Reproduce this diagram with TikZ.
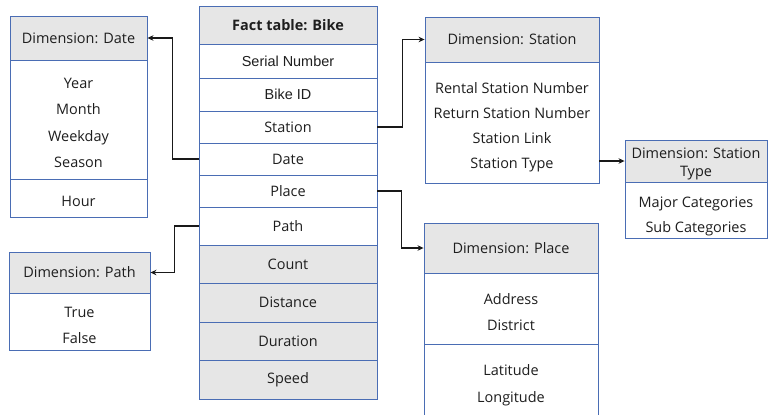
\documentclass[tikz,border=0pt]{standalone}
\usepackage{fontspec}
\setmainfont{Open Sans}
\newfontfamily\arialish{Liberation Sans}
\usetikzlibrary{arrows.meta}
\definecolor{frame}{HTML}{4A6DB4}
\definecolor{hdrfill}{HTML}{E6E6E6}
\definecolor{ink}{HTML}{1E1E1E}
\tikzset{
  cell/.style={draw=frame, line width=0.9bp, inner sep=0pt,
    font=\fontsize{14.5}{19}\selectfont, text=ink, align=center},
  hdr/.style={cell, fill=hdrfill},
  plain/.style={cell, fill=white},
  item/.style={inner sep=0pt, anchor=mid, font=\fontsize{14.5}{16}\selectfont, text=ink},
  conn/.style={draw=black!90, line width=1.4bp, -{Stealth[length=6bp,width=5.5bp]}},
}
% \tablecell{style}{name}{x1}{y1}{x2}{y2}{text}: a cell spanning the two corners
\newcommand\tablecell[7]{%
  \node[#1, minimum width={(#5-#3)*1bp}, minimum height={(#6-#4)*1bp}]
    (#2) at ({(#3+#5)/2},{(#4+#6)/2}) {#7};}
\begin{document}
\begin{tikzpicture}[x=1bp,y=-1bp]
\clip (0,0) rectangle (769,414);
\fill[white] (0,0) rectangle (769,414);

% ---------- fact table ----------
\tablecell{hdr}{f-head}{199}{6}{377}{44}{\bfseries Fact table: Bike}
\tablecell{plain}{f-serial}{199}{44}{377}{78}{\arialish Serial Number}
\tablecell{plain}{f-bike}{199}{78}{377}{111}{\arialish Bike ID}
\tablecell{plain}{f-station}{199}{111}{377}{143}{Station}
\tablecell{plain}{f-date}{199}{143}{377}{175}{Date}
\tablecell{plain}{f-place}{199}{175}{377}{207}{Place}
\tablecell{plain}{f-path}{199}{207}{377}{245}{Path}
\tablecell{hdr}{f-count}{199}{245}{377}{283}{Count}
\tablecell{hdr}{f-dist}{199}{283}{377}{322}{Distance}
\tablecell{hdr}{f-dur}{199}{322}{377}{360}{Duration}
\tablecell{hdr}{f-speed}{199}{360}{377}{399}{Speed}

% ---------- dimension: date ----------
\tablecell{hdr}{date-h}{10}{16}{147}{60}{Dimension: Date}
\tablecell{plain}{date-b}{10}{60}{147}{179}{}
\tablecell{plain}{date-b2}{10}{179}{147}{217}{}
\node[item] (date-1) at (78.5,86)  {Year};
\node[item] (date-2) at (78.5,112) {Month};
\node[item] (date-3) at (78.5,139) {Weekday};
\node[item] (date-4) at (78.5,165) {Season};
\node[item] (date-5) at (78.5,204) {Hour};

% ---------- dimension: path ----------
\tablecell{hdr}{path-h}{9}{252}{150}{293}{Dimension: Path}
\tablecell{plain}{path-b}{9}{293}{150}{350}{}
\node[item] (path-1) at (79.5,315) {True};
\node[item] (path-2) at (79.5,341) {False};

% ---------- dimension: station ----------
\tablecell{hdr}{st-h}{425}{17}{599}{62}{Dimension: Station}
\tablecell{plain}{st-b}{425}{62}{599}{183}{}
\node[item] (st-1) at (512,91)  {Rental Station Number};
\node[item] (st-2) at (512,116) {Return Station Number};
\node[item] (st-3) at (512,141) {Station Link};
\node[item] (st-4) at (512,166) {Station Type};

% ---------- dimension: station type ----------
\tablecell{hdr}{stt-h}{625}{140}{767.5}{182}{}
\node[inner sep=0pt, align=center, font=\fontsize{14.5}{18}\selectfont, text=ink]
  (stt-t) at (696,163.5) {Dimension: Station\\Type};
\tablecell{plain}{stt-b}{625}{182}{767.5}{238}{}
\node[item] (stt-1) at (696,205) {Major Categories};
\node[item] (stt-2) at (696,230) {Sub Categories};

% ---------- dimension: place ----------
\tablecell{hdr}{pl-h}{424}{223}{598}{273}{Dimension: Place}
\tablecell{plain}{pl-b}{424}{273}{598}{344}{}
\tablecell{plain}{pl-b2}{424}{344}{598}{424}{}
\node[item] (pl-1) at (511,302) {Address};
\node[item] (pl-2) at (511,328) {District};
\node[item] (pl-3) at (511,373) {Latitude};
\node[item] (pl-4) at (511,400) {Longitude};

% ---------- connectors ----------
\draw[conn] (f-date.west) -- ++(-26,0) |- (date-h.east);
\draw[conn] (f-path.west) -- ++(-24,0) |- (path-h.east);
\draw[conn] (f-station.east) -- ++(25,0) |- (st-h.west);
\draw[conn] (f-place.east) -- ++(24,0) |- (pl-h.west);
\draw[conn] (st-b.east |- stt-h.west) -- (stt-h.west);
\end{tikzpicture}
\end{document}
